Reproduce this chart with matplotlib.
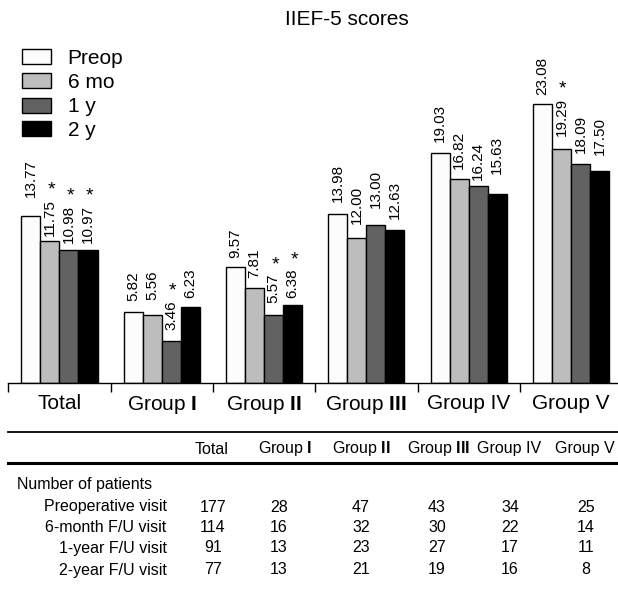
import matplotlib.pyplot as plt
from matplotlib.patches import Rectangle
from matplotlib.lines import Line2D
import numpy as np

plt.rcParams['font.family'] = ['Liberation Sans', 'DejaVu Sans']
plt.rcParams['mathtext.fontset'] = 'custom'
plt.rcParams['mathtext.rm'] = 'Liberation Sans'
plt.rcParams['mathtext.bf'] = 'Liberation Sans:bold'

groups = ['Total', r'Group $\mathbf{I}$', r'Group $\mathbf{II}$', r'Group $\mathbf{III}$', 'Group IV', 'Group V']
series = ['Preop', '6 mo', '1 y', '2 y']
colors = ['#fcfcfc', '#bdbdbd', '#626262', '#000000']

preop = [13.77, 5.82, 9.57, 13.98, 19.03, 23.08]
mo6 = [11.75, 5.56, 7.81, 12.00, 16.82, 19.29]
y1 = [10.98, 3.46, 5.57, 13.00, 16.24, 18.09]
y2 = [10.97, 6.23, 6.38, 12.63, 15.63, 17.50]
# significance marks (*)
sig_preop = [False, False, False, False, False, False]
sig_mo6 = [True, False, False, False, False, True]
sig_y1 = [True, True, True, False, False, False]
sig_y2 = [True, False, True, False, False, False]

row_labels = ['Preoperative visit', '6-month F/U visit', '1-year F/U visit', '2-year F/U visit']
n_total = [177, 114, 91, 77]
n_g1 = [28, 16, 13, 13]
n_g2 = [47, 32, 23, 21]
n_g3 = [43, 30, 27, 19]
n_g4 = [34, 22, 17, 16]
n_g5 = [25, 14, 11, 8]

# label gap above each bar (pixels), labels were hand placed in the original
gap_preop = [19, 11, 8.6, 12, 11, 8.7]
gap_mo6 = [5, 15, 10, 14, 10, 13]
gap_y1 = [7, 11, 12, 17, 6, 10.7]
gap_y2 = [7, 9, 7, 11, 20, 16]

W, H = 618, 591
fig = plt.figure(figsize=(W / 100, H / 100), dpi=100)


def fx(px):
    return px / W


def fy(py):
    return 1 - py / H


ax = fig.add_axes([fx(8.3), fy(382.5), 613.8 / W, 302 / H])
ax.set_xlim(-0.5, 5.5)
ax.set_ylim(0, 25)

x = np.arange(len(groups))
w = 0.186
values = [preop, mo6, y1, y2]
sigs = [sig_preop, sig_mo6, sig_y1, sig_y2]
gaps = [gap_preop, gap_mo6, gap_y1, gap_y2]
starred = []
for i, (vals, sg, gp) in enumerate(zip(values, sigs, gaps)):
    pos = x + (i - 1.5) * w
    ax.bar(pos, vals, width=w, color=colors[i], edgecolor='black', linewidth=1.0)
    for xp, v, s, g in zip(pos, vals, sg, gp):
        t = ax.annotate('%.2f' % v, (xp, v), xytext=(0, g * 0.72), textcoords='offset points',
                        rotation=90, ha='center', va='bottom', fontsize=11)
        if s:
            starred.append(t)

for side in ['top', 'right', 'left']:
    ax.spines[side].set_visible(False)
ax.spines['bottom'].set_linewidth(1.0)
ax.set_yticks([])
ax.set_xticks(x)
ax.set_xticklabels(groups, fontsize=15)
ax.tick_params(axis='x', which='major', length=0, pad=8)
ax.set_xticks(np.arange(-0.5, 6, 1), minor=True)
ax.tick_params(axis='x', which='minor', length=6.5, width=1.0)

# stars above the significant labels
fig.canvas.draw()
for t in starred:
    bb = t.get_window_extent()
    sx = (bb.x0 + bb.x1) / 2 + 1.5
    sy = bb.y1 + 0.5
    fig.text(sx / W, sy / H, '*', ha='center', va='bottom', fontsize=14)

fig.text(fx(346.5), fy(25), 'IIEF-5 scores', ha='center', va='baseline', fontsize=15)

# legend
leg_y = [56.7, 81, 105, 128.7]
for c, name, yc in zip(colors, series, leg_y):
    fig.add_artist(Rectangle((fx(22), fy(yc + 7.5)), 29 / W, 15 / H,
                             facecolor=c, edgecolor='black', linewidth=1.0,
                             transform=fig.transFigure))
    fig.text(fx(67.7), fy(yc + 7.5), name, ha='left', va='baseline', fontsize=15)

# table
fig.add_artist(Line2D([fx(8.3), 1], [fy(432.3), fy(432.3)], color='black', linewidth=1.3))
fig.add_artist(Line2D([fx(8.3), 1], [fy(463), fy(463)], color='black', linewidth=2.2))
head_x = [212, 285, 361, 439, 509, 585]
col_x = [213, 279, 361, 437, 510, 586]
for hx, g in zip(head_x, groups):
    fig.text(fx(hx), fy(449), g, ha='center', va='center', fontsize=11.5)
fig.text(fx(17), fy(484), 'Number of patients', ha='left', va='center', fontsize=11.5)
row_y = [507, 527, 548, 570]
cols = [n_total, n_g1, n_g2, n_g3, n_g4, n_g5]
for r, (lab, ry) in enumerate(zip(row_labels, row_y)):
    fig.text(fx(166.7), fy(ry), lab, ha='right', va='center', fontsize=11.5)
    for cx, col in zip(col_x, cols):
        fig.text(fx(cx), fy(ry), str(col[r]), ha='center', va='center', fontsize=11.5)

fig.savefig('out.png', dpi=100)
